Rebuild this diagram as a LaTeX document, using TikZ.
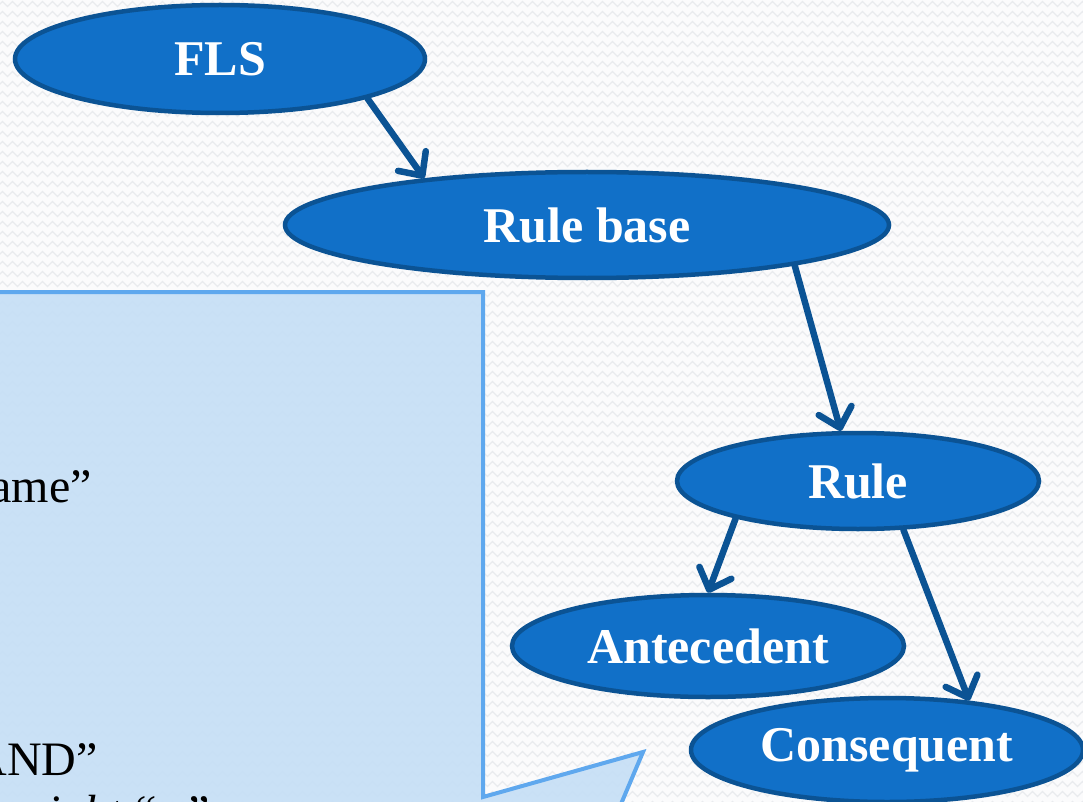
\documentclass[tikz,border=0pt]{standalone}
\usepackage{fontspec}
\setmainfont{Liberation Serif}
\usetikzlibrary{shapes.geometric,arrows.meta,decorations.pathmorphing}
\definecolor{bgc}{HTML}{FBFBFC}
\definecolor{zigc}{HTML}{E9EBEE}
\definecolor{ellfill}{HTML}{1170C8}
\definecolor{elldraw}{HTML}{0B5394}
\definecolor{callfill}{HTML}{C6DFF6}
\definecolor{calldraw}{HTML}{5FA8EE}
\tikzset{
  ellnode/.style={ellipse, fill=ellfill, draw=elldraw, line width=4.5pt, inner sep=0pt,
    text=white, font=\fontsize{50}{60}\selectfont\bfseries},
  conn/.style={draw=elldraw, line width=6.5pt, line cap=round,
    -{Straight Barb[length=18pt,width=34pt,line width=6.5pt,round]}},
  calltext/.style={font=\fontsize{48}{58}\selectfont, text=black, inner sep=0pt},
  zig/.style={draw=zigc, line width=1.3pt, decorate,
    decoration={zigzag, segment length=10pt, amplitude=2.5pt}}
}
\begin{document}
\begin{tikzpicture}[x=1pt,y=-1pt]
\useasboundingbox (0,0) rectangle (1083,802);
\fill[bgc] (0,0) rectangle (1083,802);
\begin{scope}
\clip (0,0) rectangle (1083,802);
\foreach \yy in {4,14,...,804} {
  \draw[zig] (-10,\yy) -- (1100,\yy);
}
\draw[fill=callfill, fill opacity=0.92, draw=calldraw, line width=4pt, line join=miter]
  (-20,292) -- (483,292) -- (483,797) -- (643,752) -- (610,830) -- (-20,830) -- cycle;
\node[calltext, anchor=base east] (t1) at (92,502) {ame”};
\node[calltext, anchor=base east] (t2) at (98,775) {AND”};
\node[calltext, anchor=base west] (t3) at (-6,828) {\textit{weight} “\textit{w}”};
\node[ellnode, minimum width=410pt, minimum height=108pt] (fls) at (220,59) {FLS};
\node[ellnode, minimum width=604pt, minimum height=106pt] (rb) at (587,225) {Rule base};
\node[ellnode, minimum width=362pt, minimum height=96pt] (rule) at (858,481) {Rule};
\node[ellnode, minimum width=392pt, minimum height=102pt] (ante) at (708,646) {Antecedent};
\node[ellnode, minimum width=392pt, minimum height=104pt] (cons) at (887,750) {Consequent};
\end{scope}
\draw[conn] (fls.-15) -- (rb.164);
\draw[conn] (rb.-11) -- (rule.109);
\draw[conn] (rule.-163) -- (ante.90);
\draw[conn] (rule.-47) -- (cons.31);
\end{tikzpicture}
\end{document}
